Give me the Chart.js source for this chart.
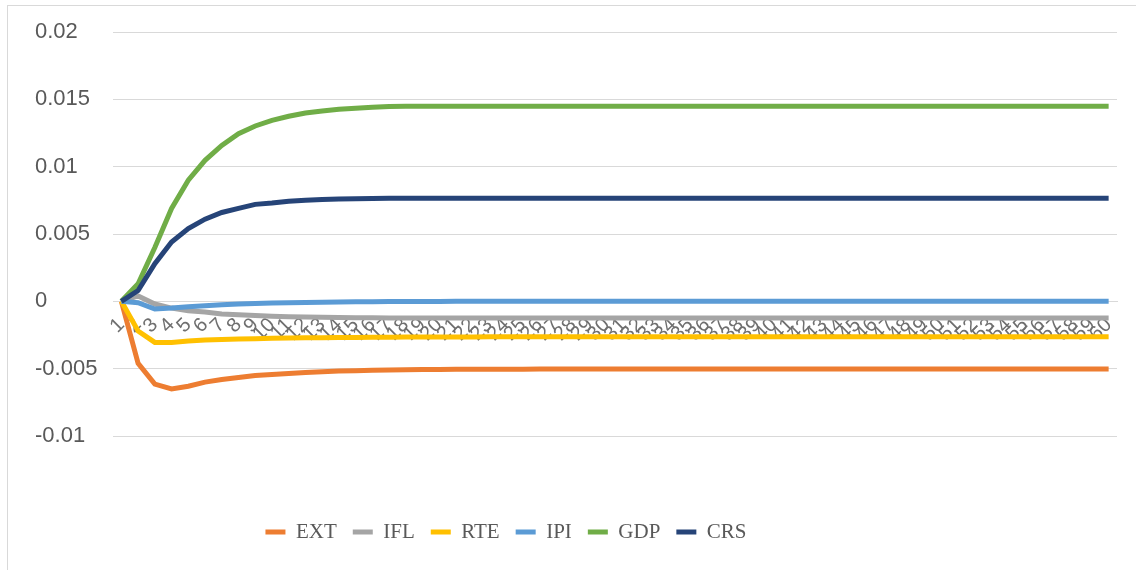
<!DOCTYPE html>
<html>
<head>
<meta charset="utf-8">
<script src="https://cdn.jsdelivr.net/npm/chart.js@4.4.1/dist/chart.umd.min.js"></script>
<style>
  html, body { margin: 0; padding: 0; background: #fff; }
  #wrap { position: relative; width: 1136px; height: 570px; }
  #rama {
    position: absolute; left: 7px; top: 5px; right: 0; bottom: 0;
    border-left: 1px solid #d9d9d9; border-top: 1px solid #d9d9d9;
    pointer-events: none;
  }
</style>
</head>
<body>
<div id="wrap">
  <canvas id="grafik"></canvas>
  <div id="rama"></div>
</div>
<script>
// ── VERI ──
const donemler = [
  '1', '2', '3', '4', '5', '6', '7', '8', '9', '10',
  '11', '12', '13', '14', '15', '16', '17', '18', '19', '20',
  '21', '22', '23', '24', '25', '26', '27', '28', '29', '30',
  '31', '32', '33', '34', '35', '36', '37', '38', '39', '40',
  '41', '42', '43', '44', '45', '46', '47', '48', '49', '50',
  '51', '52', '53', '54', '55', '56', '57', '58', '59', '60'
]

const EXT = [
  0, -0.0046, -0.00615, -0.0065, -0.0063, -0.0060, -0.0058, -0.00565, -0.0055, -0.00543,
  -0.00536, -0.00528, -0.00522, -0.00518, -0.00515, -0.00512, -0.0051, -0.00508, -0.00507, -0.00506,
  -0.00505, -0.00505, -0.00504, -0.00504, -0.00504, -0.00503, -0.00503, -0.00503, -0.00503, -0.00503,
  -0.00503, -0.00503, -0.00503, -0.00503, -0.00503, -0.00503, -0.00503, -0.00503, -0.00503, -0.00503,
  -0.00503, -0.00503, -0.00503, -0.00503, -0.00503, -0.00503, -0.00503, -0.00503, -0.00503, -0.00503,
  -0.00503, -0.00503, -0.00503, -0.00503, -0.00503, -0.00503, -0.00503, -0.00503, -0.00503, -0.00503
]
const IFL = [
  0, 0.0004, -0.0002, -0.0005, -0.0007, -0.0008, -0.00094, -0.001, -0.00106, -0.0011,
  -0.00114, -0.00117, -0.00119, -0.0012, -0.00121, -0.00122, -0.00123, -0.00123, -0.00124, -0.00124,
  -0.00124, -0.00124, -0.00124, -0.00124, -0.00124, -0.00124, -0.00124, -0.00124, -0.00124, -0.00124,
  -0.00124, -0.00124, -0.00124, -0.00124, -0.00124, -0.00124, -0.00124, -0.00124, -0.00124, -0.00124,
  -0.00124, -0.00124, -0.00124, -0.00124, -0.00124, -0.00124, -0.00124, -0.00124, -0.00124, -0.00124,
  -0.00124, -0.00124, -0.00124, -0.00124, -0.00124, -0.00124, -0.00124, -0.00124, -0.00124, -0.00124
]
const RTE = [
  0, -0.0022, -0.00305, -0.00305, -0.00295, -0.00288, -0.00283, -0.0028, -0.00277, -0.00275,
  -0.00273, -0.00271, -0.0027, -0.00269, -0.00268, -0.00267, -0.00266, -0.00265, -0.00265, -0.00264,
  -0.00264, -0.00264, -0.00263, -0.00263, -0.00263, -0.00263, -0.00263, -0.00263, -0.00263, -0.00263,
  -0.00263, -0.00263, -0.00263, -0.00263, -0.00263, -0.00263, -0.00263, -0.00263, -0.00263, -0.00263,
  -0.00263, -0.00263, -0.00263, -0.00263, -0.00263, -0.00263, -0.00263, -0.00263, -0.00263, -0.00263,
  -0.00263, -0.00263, -0.00263, -0.00263, -0.00263, -0.00263, -0.00263, -0.00263, -0.00263, -0.00263
]
const IPI = [
  0, -0.0001, -0.00057, -0.0005, -0.0004, -0.00033, -0.00025, -0.0002, -0.00016, -0.00013,
  -0.0001, -0.00008, -0.00006, -0.00005, -0.00004, -0.00003, -0.00002, -0.00002, -0.00001, -0.00001,
  0, 0, 0, 0, 0, 0, 0, 0, 0, 0,
  0, 0, 0, 0, 0, 0, 0, 0, 0, 0,
  0, 0, 0, 0, 0, 0, 0, 0, 0, 0,
  0, 0, 0, 0, 0, 0, 0, 0, 0, 0
]
const GDP = [
  0, 0.0013, 0.004, 0.0069, 0.009, 0.01047, 0.01158, 0.01245, 0.01302, 0.01344,
  0.01374, 0.01399, 0.01414, 0.01426, 0.01434, 0.01441, 0.01446, 0.01448, 0.01449, 0.01449,
  0.01449, 0.01449, 0.01449, 0.01449, 0.01449, 0.01449, 0.01449, 0.01449, 0.01449, 0.01449,
  0.01449, 0.01449, 0.01449, 0.01449, 0.01449, 0.01449, 0.01449, 0.01449, 0.01449, 0.01449,
  0.01449, 0.01449, 0.01449, 0.01449, 0.01449, 0.01449, 0.01449, 0.01449, 0.01449, 0.01449,
  0.01449, 0.01449, 0.01449, 0.01449, 0.01449, 0.01449, 0.01449, 0.01449, 0.01449, 0.01449
]
const CRS = [
  0, 0.0008, 0.0028, 0.0044, 0.0054, 0.0061, 0.0066, 0.0069, 0.0072, 0.0073,
  0.00744, 0.00751, 0.00757, 0.0076, 0.00762, 0.00764, 0.00765, 0.00766, 0.00766, 0.00766,
  0.00766, 0.00766, 0.00766, 0.00766, 0.00766, 0.00766, 0.00766, 0.00766, 0.00766, 0.00766,
  0.00766, 0.00766, 0.00766, 0.00766, 0.00766, 0.00766, 0.00766, 0.00766, 0.00766, 0.00766,
  0.00766, 0.00766, 0.00766, 0.00766, 0.00766, 0.00766, 0.00766, 0.00766, 0.00766, 0.00766,
  0.00766, 0.00766, 0.00766, 0.00766, 0.00766, 0.00766, 0.00766, 0.00766, 0.00766, 0.00766
]

const seriAdlari = ['EXT', 'IFL', 'RTE', 'IPI', 'GDP', 'CRS']
const seriVerileri = [EXT, IFL, RTE, IPI, GDP, CRS]
const renkler = ['#ed7d31', '#a5a5a5', '#ffc000', '#5b9bd5', '#70ad47', '#264478']

// ── LEGEND KONUMU (Excel gibi alta, sola kaymis) ──
const legendKonum = {
  id: 'legendKonum',
  beforeDraw(chart) {
    const lg = chart.legend
    if (!lg) return
    const h = lg.bottom - lg.top
    lg.top = 532 - 16 - 10.5
    lg.bottom = lg.top + h
    lg.left = 0
    lg.right = 1012
  }
}

Chart.defaults.font.family = '"Liberation Sans", Arial, sans-serif'
Chart.defaults.color = '#595959'

new Chart(document.getElementById('grafik'), {
  type: 'line',
  data: {
    labels: donemler,
    datasets: seriAdlari.map((ad, i) => ({
      label: ad,
      data: seriVerileri[i],
      borderColor: renkler[i],
      backgroundColor: renkler[i],
      borderWidth: 5,
      pointRadius: 0,
      tension: 0,
      fill: false,
      order: seriAdlari.length - i
    }))
  },
  options: {
    responsive: true,
    maintainAspectRatio: false,
    animation: false,
    events: [],
    layout: { padding: { left: 35, right: 19, top: 32, bottom: 87 } },
    plugins: {
      tooltip: { enabled: false },
      legend: {
        position: 'bottom',
        labels: {
          usePointStyle: true,
          pointStyle: 'line',
          pointStyleWidth: 20,
          padding: 16,
          color: '#595959',
          font: { family: '"Liberation Serif", "Times New Roman", serif', size: 21 },
          sort: (a, b) => a.datasetIndex - b.datasetIndex
        }
      }
    },
    scales: {
      x: {
        type: 'category',
        position: { y: 0 },
        offset: true,
        grid: { display: false },
        border: { display: true, color: '#d9d9d9', width: 1 },
        ticks: {
          autoSkip: false,
          minRotation: 45,
          maxRotation: 45,
          padding: 4,
          color: '#6f6f6f',
          font: { size: 20 }
        }
      },
      y: {
        min: -0.01,
        max: 0.02,
        afterFit: s => { s.width = 78 },
        grid: { color: '#d9d9d9', lineWidth: 1, drawTicks: false },
        border: { display: false },
        ticks: {
          stepSize: 0.005,
          crossAlign: 'far',
          padding: 0,
          color: '#595959',
          font: { size: 22 },
          callback: v => String(parseFloat(Number(v).toFixed(3)))
        }
      }
    }
  },
  plugins: [legendKonum]
})
</script>
</body>
</html>
